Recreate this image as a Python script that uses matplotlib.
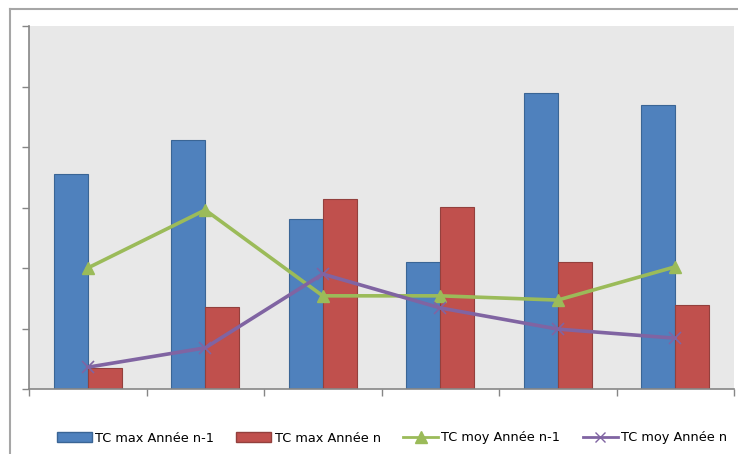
import matplotlib.pyplot as plt
from matplotlib.lines import Line2D
import numpy as np

# chart values (no visible scale in the reference, units read from gridline spacing)
categories = ["1", "2", "3", "4", "5", "6"]
tc_max_n1 = [3.55, 4.12, 2.81, 2.10, 4.89, 4.69]
tc_max_n = [0.35, 1.36, 3.14, 3.01, 2.10, 1.39]
tc_moy_n1 = [2.00, 2.96, 1.54, 1.54, 1.47, 2.02]
tc_moy_n = [0.36, 0.68, 1.90, 1.34, 0.99, 0.84]
labels = ["TC max Année n-1", "TC max Année n", "TC moy Année n-1", "TC moy Année n"]

W, H = 738, 454
fig = plt.figure(figsize=(W / 100, H / 100), dpi=100)
plt.rcParams["font.family"] = ["Liberation Sans Narrow", "DejaVu Sans"]

ax = fig.add_axes([29 / W, (H - 389) / H, (734 - 29) / W, (389 - 26) / H])
ax.set_facecolor("#E8E8E8")

x = np.arange(len(categories))
bw = 0.29
ax.bar(x - bw / 2, tc_max_n1, width=bw, color="#4F81BD", edgecolor="#3A6595", linewidth=0.8, zorder=2)
ax.bar(x + bw / 2, tc_max_n, width=bw, color="#C0504D", edgecolor="#93403D", linewidth=0.8, zorder=2)
ax.plot(x, tc_moy_n1, color="#9BBB59", lw=2.6, marker="^", ms=9, zorder=3)
ax.plot(x, tc_moy_n, color="#8064A2", lw=2.6, marker="x", ms=8, mew=1.2, zorder=3)

ax.set_xlim(-0.5, len(categories) - 0.5)
ax.set_ylim(0, 6)
ax.set_yticks(np.arange(0, 7, 1))
ax.set_xticks(np.arange(-0.5, len(categories)))
ax.set_xticklabels([])
ax.set_yticklabels([])
ax.tick_params(axis="both", direction="out", length=5, width=1, color="#868686")
for s in ["top", "right"]:
    ax.spines[s].set_visible(False)
for s in ["left", "bottom"]:
    ax.spines[s].set_color("#868686")
    ax.spines[s].set_linewidth(1.2)

# outer chart border
fig.add_artist(Line2D([10 / W, 10 / W], [0, 1 - 9 / H], color="#A6A6A6", lw=1.5))
fig.add_artist(Line2D([10 / W, 1], [1 - 9 / H, 1 - 9 / H], color="#A6A6A6", lw=1.5))

handles = [
    plt.Rectangle((0, 0), 1, 1, facecolor="#4F81BD", edgecolor="#3A6595"),
    plt.Rectangle((0, 0), 1, 1, facecolor="#C0504D", edgecolor="#93403D"),
    Line2D([], [], color="#9BBB59", lw=2, marker="^", ms=8),
    Line2D([], [], color="#8064A2", lw=2, marker="x", ms=7),
]
fig.legend(handles, labels, loc="center", bbox_to_anchor=(392 / W, 1 - 438 / H), ncol=4,
           frameon=False, fontsize=9.3, handlelength=2.7, handleheight=0.7,
           handletextpad=0.25, columnspacing=1.75, borderpad=0.2)

fig.savefig("out.png", dpi=100)
